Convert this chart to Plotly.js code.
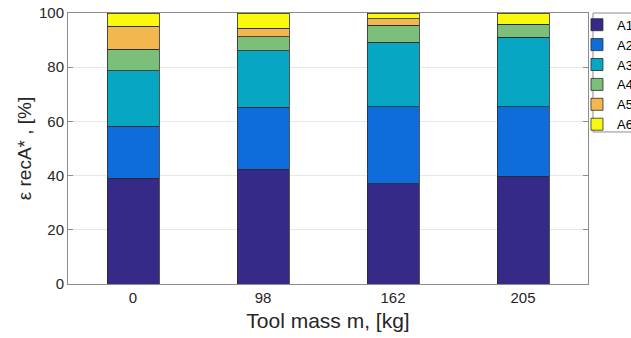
<!DOCTYPE html>
<html>
<head>
<meta charset="utf-8">
<script src="https://cdn.plot.ly/plotly-3.0.1.min.js"></script>
<style>html,body{margin:0;padding:0;background:#fff;}#chart{width:631px;height:338px;}</style>
</head>
<body>
<div id="chart"></div>
<script>
const categories = ['0', '98', '162', '205'];
const seriesNames = ['A1', 'A2', 'A3', 'A4', 'A5', 'A6'];
const A1 = [39.1, 42.4, 37.0, 39.7];
const A2 = [19.2, 22.8, 28.4, 25.7];
const A3 = [20.4, 20.8, 23.8, 25.6];
const A4 = [7.9, 5.3, 6.2, 4.9];
const A5 = [8.6, 3.0, 2.4, 0.0];
const A6 = [4.8, 5.7, 2.2, 4.1];
const colors = ['#352a87', '#0f6ddb', '#07a6c3', '#7cbf7b', '#f2b84f', '#f9f90e'];

const values = [A1, A2, A3, A4, A5, A6];
const traces = values.map((v, i) => ({
  type: 'bar',
  name: seriesNames[i],
  x: categories,
  y: v,
  width: 0.4,
  marker: {color: colors[i], line: {color: '#2b2b2b', width: 0.8}},
  hoverinfo: 'x+y+name'
}));

const FONT = "Arial, 'Liberation Sans', sans-serif";

const layout = {
  width: 631, height: 338,
  barmode: 'stack',
  margin: {l: 68, r: 43, t: 13, b: 54, autoexpand: false},
  paper_bgcolor: '#ffffff',
  plot_bgcolor: '#ffffff',
  font: {family: FONT, color: '#262626', size: 15},
  showlegend: true,
  legend: {
    x: 0.9788, xanchor: 'left', y: 1.012, yanchor: 'top',
    bgcolor: 'rgba(0,0,0,0)',
    borderwidth: 0,
    font: {family: FONT, size: 13, color: '#000'},
    tracegroupgap: 0, traceorder: 'normal',
    itemwidth: 30
  },
  shapes: [{
    type: 'rect', xref: 'paper', yref: 'paper',
    x0: 1.0096, x1: 1.12, y0: 0.561, y1: 1,
    line: {color: '#8c8c8c', width: 1}, fillcolor: 'rgba(0,0,0,0)', layer: 'below'
  }],
  xaxis: {
    type: 'category',
    range: [-0.5, 3.5],
    showline: true, linecolor: '#8c8c8c', linewidth: 1, mirror: true,
    ticks: '', showgrid: false,
    tickfont: {size: 15, color: '#262626'},
    title: {text: 'Tool mass m, [kg]', font: {size: 21, color: '#262626'}, standoff: 8}
  },
  yaxis: {
    range: [0, 100],
    tickvals: [0, 20, 40, 60, 80, 100],
    showline: true, linecolor: '#8c8c8c', linewidth: 1, mirror: 'ticks',
    ticks: 'inside', ticklen: 5, tickcolor: '#8c8c8c',
    showgrid: true, gridcolor: '#e8e8e8', gridwidth: 1,
    zeroline: false,
    tickfont: {size: 15, color: '#262626'},
    title: {text: 'ε recA* , [%]', font: {size: 19, color: '#262626'}, standoff: 2}
  }
};

Plotly.newPlot('chart', traces, layout, {staticPlot: true, displayModeBar: false});
</script>
</body>
</html>
